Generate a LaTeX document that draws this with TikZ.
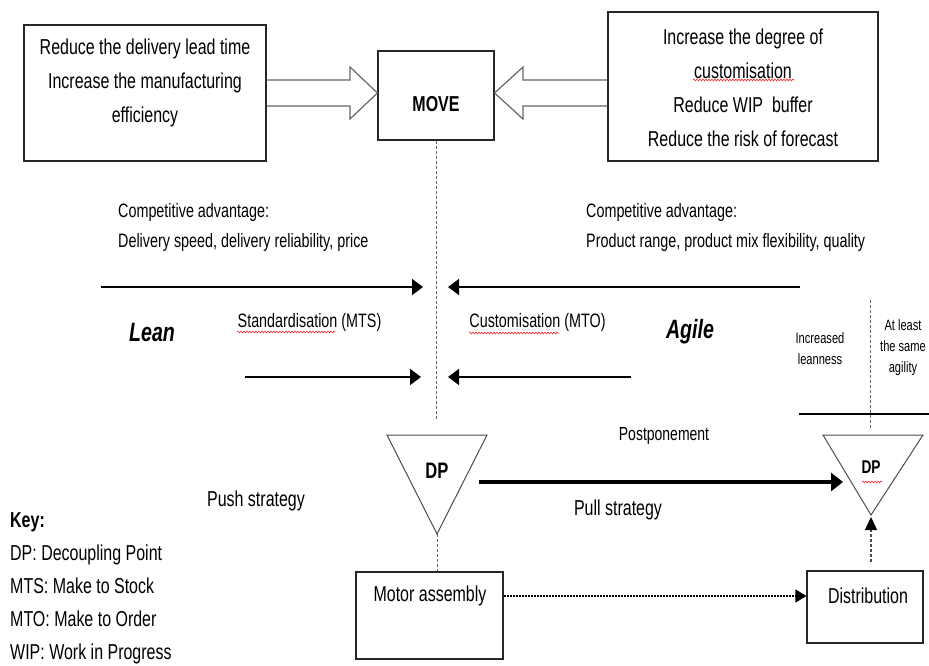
\documentclass[tikz,border=0pt]{standalone}
\usepackage{fontspec}
\setmainfont{Liberation Sans}[FakeStretch=0.74]
\usetikzlibrary{arrows.meta,decorations.pathmorphing,calc}
\begin{document}
\begin{tikzpicture}[x=1pt,y=-1pt,
  box/.style={draw=black!85,line width=1.1pt,inner sep=0pt},
  txt/.style={font=\fontsize{21.6}{34}\selectfont,align=center,inner sep=0pt},
  sm/.style={font=\fontsize{19.4}{30}\selectfont,align=left,inner sep=0pt},
  tinyt/.style={font=\fontsize{15}{21}\selectfont,align=center,inner sep=0pt},
  big/.style={font=\fontsize{26.5}{30}\selectfont\bfseries\itshape,inner sep=0pt},
  keyt/.style={font=\fontsize{21.6}{33}\selectfont,align=left,inner sep=0pt},
  blockarrow/.style={draw=black!60,line width=1.2pt,line join=miter},
  flow/.style={line width=1.5pt,-{Triangle[length=11pt,width=16pt]}},
  guide/.style={draw=black!60,line width=1pt,dash pattern=on 3pt off 2pt},
  squig/.style={red!85,line width=0.6pt,decorate,decoration={snake,amplitude=0.9pt,segment length=3pt}},
  dp/.style={draw=black!70,line width=1pt,line join=miter}
]
\useasboundingbox (0,0) rectangle (929,666);

% top boxes
\node[box,minimum width=242pt,minimum height=136pt] (lbox) at (145,93) {};
\node[txt] (ltext) at (145,83) {Reduce the delivery lead time\\Increase the manufacturing\\efficiency};
\node[box,minimum width=116pt,minimum height=89pt] (move) at (436,95.5) {};
\node[txt,font=\fontsize{21.6}{24}\selectfont\bfseries] (movet) at (436,104) {MOVE};
\node[box,minimum width=270pt,minimum height=149pt] (rbox) at (743,86.5) {};
\node[txt] (rtext) at (743,88) {Increase the degree of\\customisation\\Reduce WIP\ \ buffer\\Reduce the risk of forecast};

% block arrows
\draw[blockarrow] (lbox.east |- 0,80) -- (350,80) -- (350,67) -- (move.west |- 0,93)
  -- (350,119) -- (350,106) -- (lbox.east |- 0,106);
\draw[blockarrow] (rbox.west |- 0,80) -- (523,80) -- (523,67) -- (move.east |- 0,93)
  -- (523,119) -- (523,106) -- (rbox.west |- 0,106);

% central guide
\coordinate (gend) at (436,420);
\draw[guide] (move.south) -- (gend);

% competitive advantage
\node[sm,anchor=west] (cal) at (118,227) {Competitive advantage:\\Delivery speed, delivery reliability, price};
\node[sm,anchor=west] (car) at (586,227) {Competitive advantage:\\Product range, product mix flexibility, quality};

% horizontal arrows
\coordinate (a1s) at (101,287); \coordinate (a1e) at (423,287);
\coordinate (a2s) at (800,287); \coordinate (a2e) at (448,287);
\coordinate (a3s) at (245,377); \coordinate (a3e) at (421,377);
\coordinate (a4s) at (631,377); \coordinate (a4e) at (448,377);
\draw[flow] (a1s) -- (a1e);
\draw[flow] (a2s) -- (a2e);
\draw[flow] (a3s) -- (a3e);
\draw[flow] (a4s) -- (a4e);

\node[big] (lean) at (152,333) {Lean};
\node[big] (agile) at (690,332) {Agile};
\node[sm] (std) at (309.5,322) {Standardisation\ (MTS)};
\node[sm] (cust) at (537.5,322) {Customisation (MTO)};
\node[tinyt] (incl) at (820,349) {Increased\\leanness};
\node[tinyt] (agil) at (903,348) {At least\\the same\\agility};

% right guide and line
\coordinate (g2a) at (870,300); \coordinate (g2b) at (870,428);
\draw[guide] (g2a) -- (g2b);
\coordinate (h1) at (799,414); \coordinate (h2) at (929,414);
\draw[line width=1.2pt] (h1) -- (h2);

% decoupling points
\draw[dp] (387,435) -- (487,435) -- (437,534) -- cycle;
\node[txt,font=\fontsize{22.4}{24}\selectfont\bfseries] (dp1) at (437,471) {DP};
\coordinate (dp1apex) at (437,534);
\draw[dp] (823,435) -- (923,435) -- (871,515) -- cycle;
\node[txt,font=\fontsize{18.5}{20}\selectfont\bfseries] (dp2) at (871,467) {DP};
\coordinate (dp2apex) at (871,517);

% strategy labels
\node[txt,font=\fontsize{18.9}{20}\selectfont] (post) at (664,436) {Postponement};
\node[txt] (push) at (256,501) {Push strategy};
\node[txt] (pull) at (618,510) {Pull strategy};
\coordinate (pa) at (479,482); \coordinate (pb) at (843,482);
\draw[line width=4pt,-{Triangle[length=12pt,width=18pt]}] (pa) -- (pb);

% bottom boxes
\node[box,minimum width=147pt,minimum height=87pt] (motor) at (429.5,615.5) {};
\node[txt] (motort) at (430,596) {Motor assembly};
\node[box,minimum width=116pt,minimum height=72pt] (dist) at (865,607) {};
\node[txt] (distt) at (868,596) {Distribution};

\draw[guide] (dp1apex) -- (dp1apex |- motor.north);
\draw[line width=1.2pt,dash pattern=on 2pt off 1pt,-{Triangle[length=11pt,width=13pt]}]
  (motor.east |- 0,596) -- (dist.west |- 0,596);
\coordinate (ds) at (871,562);
\draw[draw=black!70,line width=1.2pt,dash pattern=on 3pt off 2pt,-{Triangle[length=13pt,width=12pt,fill=black,color=black]}] (ds) -- (dp2apex);

% key
\node[keyt,anchor=west] (key) at (10,588) {\textbf{Key:}\\DP: Decoupling Point\\MTS: Make to Stock\\MTO: Make to Order\\WIP: Work in Progress};

% spell-check marks
\draw[squig] (693,80) -- (794,80);
\draw[squig] (237,332) -- (335,332);
\draw[squig] (469,333) -- (559,333);
\draw[squig] (862,482) -- (882,482);
\end{tikzpicture}
\end{document}
